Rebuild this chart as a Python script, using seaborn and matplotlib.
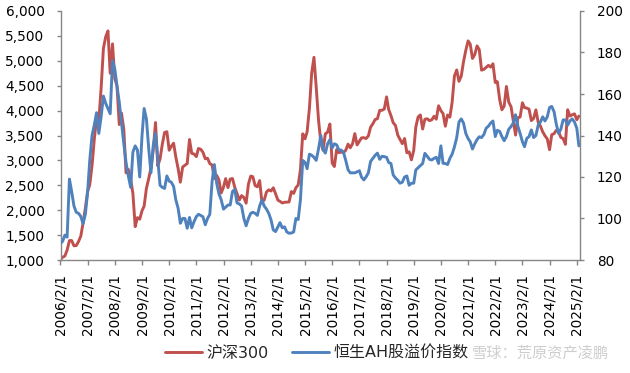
import numpy as np
import pandas as pd
import matplotlib
matplotlib.use("Agg")
import matplotlib.pyplot as plt
import seaborn as sns

# ---------------- data (monthly, 2006/2 .. 2025/3) ----------------
start_date = "2006-02-01"
n_months = 230

hs300 = [
    # 2006 Feb-Dec
    1015, 1055, 1080, 1200, 1390, 1390, 1285, 1290, 1370, 1480, 1740,
    # 2007
    2040, 2380, 2510, 2900, 3420, 3850, 3800, 4450, 5250, 5480, 5600, 4750,
    # 2008
    5340, 4640, 4500, 3720, 3950, 3620, 2750, 2820, 2620, 2340, 1670, 1850,
    # 2009
    1820, 1990, 2080, 2440, 2630, 2850, 3200, 3760, 2890, 3030, 3330, 3560,
    # 2010
    3576, 3204, 3281, 3346, 3068, 2835, 2563, 2868, 2903, 2936, 3420, 3142,
    # 2011
    3128, 3076, 3239, 3223, 3163, 3032, 3044, 2937, 2905, 2635, 2700, 2610,
    # 2012
    2346, 2464, 2634, 2454, 2626, 2635, 2461, 2332, 2204, 2293, 2254, 2140,
    # 2013
    2523, 2686, 2673, 2495, 2470, 2594, 2164, 2204, 2366, 2409, 2385, 2450,
    # 2014
    2330, 2202, 2178, 2146, 2159, 2161, 2165, 2374, 2338, 2450, 2508, 2809,
    # 2015
    3534, 3434, 3572, 4051, 4749, 5070, 4473, 3816, 3366, 3203, 3534, 3566,
    # 2016
    3731, 2946, 2877, 3218, 3156, 3169, 3154, 3203, 3327, 3253, 3336, 3538,
    # 2017
    3310, 3387, 3452, 3456, 3439, 3492, 3666, 3737, 3822, 3837, 4006, 4006,
    # 2018
    4031, 4275, 4023, 3899, 3757, 3700, 3510, 3420, 3335, 3439, 3153, 3173,
    # 2019
    3011, 3201, 3670, 3872, 3913, 3630, 3826, 3836, 3799, 3814, 3886, 3828,
    # 2020
    4097, 3999, 3940, 3686, 3912, 3868, 4164, 4695, 4816, 4588, 4695, 4980,
    # 2021
    5211, 5400, 5336, 5048, 5123, 5300, 5224, 4812, 4828, 4866, 4908, 4874,
    # 2022
    4940, 4564, 4581, 4223, 4016, 4091, 4485, 4170, 4079, 3804, 3509, 3854,
    # 2023
    3872, 4157, 4060, 4050, 4030, 3799, 3842, 4015, 3765, 3690, 3573, 3496,
    # 2024
    3431, 3215, 3516, 3537, 3604, 3580, 3462, 3439, 3322, 4017, 3891, 3916,
    # 2025 Jan-Mar
    3935, 3817, 3890,
]

ah_premium = [
    # 2006 Feb-Dec
    88, 89, 92, 91, 119, 113, 106, 103, 102.5, 101, 97.5,
    # 2007
    102, 113, 128, 140, 145, 151, 141, 149, 159, 155.5, 153, 150.5,
    # 2008
    176, 172, 164, 156, 146, 136, 127, 120.5, 115, 132, 135, 133,
    # 2009
    120, 140, 153, 148, 134, 122, 135, 141, 128, 116, 115, 114.5,
    # 2010
    120.5, 118, 117.5, 115.5, 109, 104.9, 97.7, 100, 100, 95.3, 100.5, 95.5,
    # 2011
    98.5, 100.9, 102, 101.5, 100.8, 97, 100, 102, 118, 126, 117, 112,
    # 2012
    109, 104.5, 105.5, 106.5, 106.5, 113, 114, 107.5, 107, 106, 100, 96.5,
    # 2013
    100, 102.5, 103, 102.5, 101.5, 106, 109, 106, 104.5, 102.5, 99.3, 94.5,
    # 2014
    93.7, 96, 98, 95.5, 96, 93.5, 92.9, 93, 93.5, 100, 99.5, 109,
    # 2015
    128, 127, 124, 131, 130.5, 129.5, 128, 133.5, 140, 133.5, 131.5, 136,
    # 2016
    138, 134, 136, 135.5, 133, 133, 132, 128, 123.5, 122, 122, 122,
    # 2017
    122.5, 123, 120, 118.6, 120, 122, 127.5, 129, 130.5, 131.5, 128.5, 130,
    # 2018
    129.8, 129.5, 127, 126.5, 121, 119.5, 118.5, 117, 117.5, 120, 120.5, 116,
    # 2019
    117, 117, 123.4, 124.5, 125.5, 126.5, 131.4, 130, 128.5, 128.2, 129, 129.5,
    # 2020
    126.5, 135, 126.6, 126.5, 126, 129, 131, 134.5, 139, 146.5, 148, 146,
    # 2021
    141, 138.5, 137, 133.5, 136, 138, 139.4, 139, 140.5, 143.5, 144.5, 146,
    # 2022
    147, 139.5, 142.5, 142, 139.5, 137.5, 139.5, 143, 144.3, 146, 150, 144.5,
    # 2023
    141, 137, 134.6, 138.6, 139.5, 142.7, 139, 140, 145, 146.5, 149, 147,
    # 2024
    149, 153.5, 154, 151.5, 145.5, 141, 143, 147.5, 147.5, 145, 147, 148,
    # 2025 Jan-Mar
    146.5, 143.5, 135,
]

tick_years = list(range(2006, 2026))
series_names = ["沪深300", "恒生AH股溢价指数"]
watermark = "雪球：荒原资产凌鹏"

# ---------------- build frame ----------------
dates = pd.date_range(start_date, periods=n_months, freq="MS")
df = pd.DataFrame({"date": dates, "hs300": hs300, "ah": ah_premium})

# ---------------- style ----------------
sns.set_theme(style="white")
plt.rcParams["font.family"] = ["DejaVu Sans", "Noto Sans CJK SC"]
FS = 9.8
RED = "#C0504D"
BLUE = "#4F81BD"
SPINE = "#868686"

fig = plt.figure(figsize=(6.3, 3.73), dpi=100)
ax = fig.add_axes([60.5 / 630, 1 - 260 / 373, (580.3 - 60.5) / 630, (260 - 11) / 373])
ax2 = ax.twinx()

sns.lineplot(data=df, x="date", y="hs300", ax=ax, color=RED, linewidth=2.1,
             label=series_names[0], legend=False)
sns.lineplot(data=df, x="date", y="ah", ax=ax2, color=BLUE, linewidth=2.1,
             label=series_names[1], legend=False)

ax.set_xlim(pd.Timestamp("2006-02-01"), pd.Timestamp("2025-03-20"))
ax.set_ylim(1000, 6000)
ax2.set_ylim(80, 200)
ax.set_yticks(np.arange(1000, 6001, 500))
ax.set_yticklabels([f"{v:,}" for v in range(1000, 6001, 500)], fontsize=FS)
ax2.set_yticks(np.arange(80, 201, 20))
ax2.set_yticklabels([str(v) for v in range(80, 201, 20)], fontsize=FS)

xt = [pd.Timestamp(f"{y}-02-01") for y in tick_years]
ax.set_xticks(xt)
ax.set_xticklabels([f"{d.year}/{d.month}/{d.day}" for d in xt], rotation=90, fontsize=FS)

ax.set_xlabel("")
ax.set_ylabel("")
ax2.set_ylabel("")

for a in (ax, ax2):
    a.grid(False)
    a.spines["top"].set_visible(False)
    for s in ("left", "right", "bottom"):
        a.spines[s].set_color(SPINE)
        a.spines[s].set_linewidth(1.0)
ax.spines["right"].set_visible(False)
ax2.spines["left"].set_visible(False)
ax2.spines["bottom"].set_visible(False)

ax.tick_params(axis="y", which="major", direction="out", length=3, width=1,
               color=SPINE, pad=8.6, labelcolor="black", left=True)
ax.tick_params(axis="x", which="major", direction="out", length=3.6, width=1,
               color=SPINE, pad=6.5, labelcolor="black", bottom=True)
ax2.tick_params(axis="y", which="major", direction="out", length=3, width=1,
                color=SPINE, pad=9, labelcolor="black", right=True)

# legend
h1, l1 = ax.get_legend_handles_labels()
h2, l2 = ax2.get_legend_handles_labels()
fig.legend(h1 + h2, l1 + l2, loc="center", bbox_to_anchor=(317 / 630, 1 - 353 / 373),
           ncol=2, frameon=False, fontsize=11.5, handlelength=2.3, columnspacing=1.45,
           handletextpad=0.3)

# watermark (placed just after the legend so the two do not collide)
fig.text(472 / 630, 1 - 353 / 373, watermark, fontsize=11.0, color="#bdbdbd",
         alpha=0.75, ha="left", va="center", family=["Noto Sans CJK SC", "DejaVu Sans"])

fig.savefig("out.png", dpi=100)
